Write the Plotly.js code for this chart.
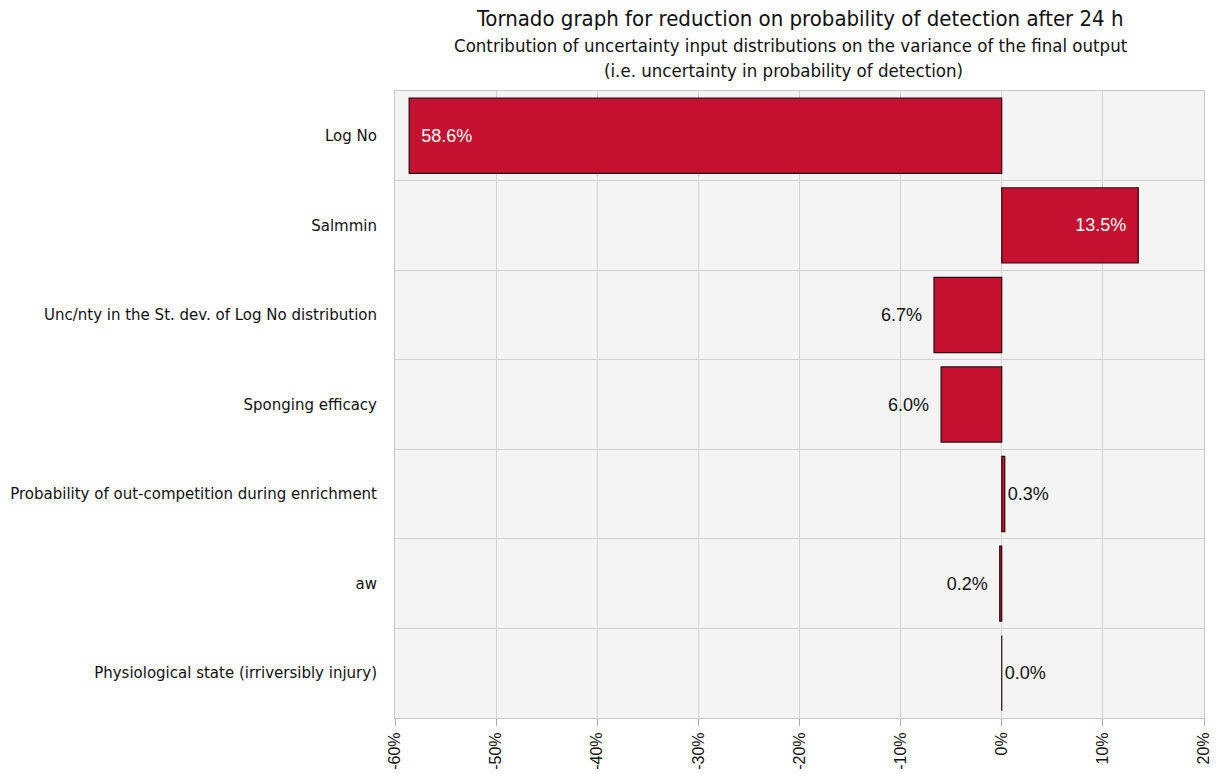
<!DOCTYPE html>
<html>
<head>
<meta charset="utf-8">
<script src="https://cdn.plot.ly/plotly-3.0.1.min.js"></script>
<style>html,body{margin:0;padding:0;background:#fff;}#chart{width:1216px;height:774px;}</style>
</head>
<body>
<div id="chart"></div>
<script>
var categories = [
  "Log No",
  "Salmmin",
  "Unc/nty in the St. dev. of Log No distribution",
  "Sponging efficacy",
  "Probability of out-competition during enrichment",
  "aw",
  "Physiological state (irriversibly injury)"
];
var values = [-58.6, 13.5, -6.7, -6.0, 0.3, -0.2, 0.0];
var labels = ["58.6%", "13.5%", "6.7%", "6.0%", "0.3%", "0.2%", "0.0%"];
var labelPositions = ["inside", "inside", "outside", "outside", "outside", "outside", "outside"];
var xTickVals = [-60, -50, -40, -30, -20, -10, 0, 10, 20];
var xTickText = ["-60%", "-50%", "-40%", "-30%", "-20%", "-10%", "0%", "10%", "20%"];
var titleText = "Tornado graph for reduction on probability of detection after 24 h";
var subtitleLines = [
  "Contribution of uncertainty input distributions on the variance of the final output",
  "(i.e. uncertainty in probability of detection)"
];

var pad = "\u2002";
var templates = labelPositions.map(function (p, i) {
  if (p === "inside") return i === 0 ? pad + "%{text}" : "%{text}" + pad;
  return values[i] < 0 ? "%{text}" + pad : pad.slice(0, 0) + "%{text}";
});

var trace = {
  type: "bar",
  orientation: "h",
  x: values,
  y: categories,
  text: labels,
  texttemplate: templates,
  textposition: labelPositions,
  insidetextanchor: "end",
  insidetextfont: {family: "Liberation Sans, Arial, sans-serif", size: 18, color: "#ffffff"},
  outsidetextfont: {family: "Liberation Sans, Arial, sans-serif", size: 18, color: "#111111"},
  textangle: 0,
  cliponaxis: false,
  marker: {color: "#c4112f", line: {color: "#2a0a10", width: 1.2}},
  hoverinfo: "x+y"
};

var titleFont = "DejaVu Sans Condensed, DejaVu Sans, sans-serif";

var layout = {
  width: 1216,
  height: 774,
  paper_bgcolor: "#ffffff",
  plot_bgcolor: "#f4f4f4",
  margin: {l: 395, r: 12, t: 91, b: 56},
  bargap: 0.16,
  showlegend: false,
  annotations: [
    {text: titleText, xref: "paper", yref: "paper", x: 0.5, y: 1, xanchor: "center", yanchor: "middle",
     yshift: 756 - 18 - 683 + 0, showarrow: false, font: {family: titleFont, size: 22, color: "#111111"}},
    {text: subtitleLines[0], xref: "paper", yref: "paper", x: 0.49, y: 1, xanchor: "center", yanchor: "middle",
     yshift: 91 - 45, showarrow: false, font: {family: titleFont, size: 18.5, color: "#111111"}},
    {text: subtitleLines[1], xref: "paper", yref: "paper", x: 0.48, y: 1, xanchor: "center", yanchor: "middle",
     yshift: 91 - 70, showarrow: false, font: {family: titleFont, size: 18.5, color: "#111111"}}
  ],
  xaxis: {
    range: [-60, 20],
    tickvals: xTickVals,
    ticktext: xTickText,
    tickangle: -90,
    ticks: "outside",
    ticklen: 7,
    tickcolor: "#aaaaaa",
    showgrid: true,
    gridcolor: "#d2d2d2",
    gridwidth: 1,
    zeroline: false,
    showline: true,
    linecolor: "#c8c8c8",
    mirror: true,
    tickfont: {family: "Liberation Sans, Arial, sans-serif", size: 16, color: "#111111"}
  },
  yaxis: {
    type: "category",
    autorange: "reversed",
    tickson: "boundaries",
    ticks: "",
    showgrid: true,
    gridcolor: "#d2d2d2",
    gridwidth: 1,
    showline: true,
    linecolor: "#c8c8c8",
    mirror: true,
    ticklabelstandoff: 14,
    tickfont: {family: "DejaVu Sans, sans-serif", size: 15, color: "#111111"}
  }
};
layout.annotations[0].yshift = 91 - 18;

Plotly.newPlot("chart", [trace], layout, {displayModeBar: false, staticPlot: true});
</script>
</body>
</html>
